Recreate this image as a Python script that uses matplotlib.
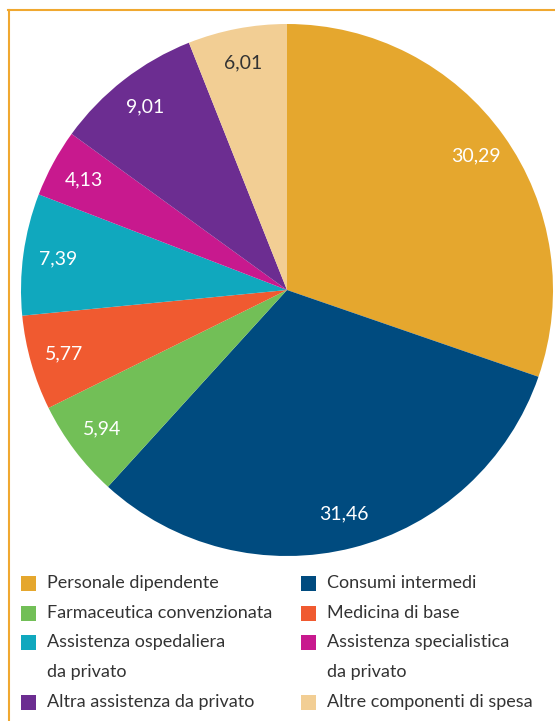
import matplotlib
matplotlib.use("Agg")
import matplotlib.pyplot as plt
from matplotlib.patches import Rectangle
from matplotlib.lines import Line2D
import numpy as np

categories = ["Personale dipendente", "Consumi intermedi", "Farmaceutica convenzionata",
              "Medicina di base", "Assistenza ospedaliera\nda privato",
              "Assistenza specialistica\nda privato", "Altra assistenza da privato",
              "Altre componenti di spesa"]
values = [30.29, 31.46, 5.94, 5.77, 7.39, 4.13, 9.01, 6.01]
colors = ["#E5A72E", "#004B7F", "#72BF57", "#F05A30", "#10A8BE", "#C8198E", "#6C2D91", "#F2CE94"]
label_colors = ["white"] * 7 + ["#333333"]

plt.rcParams['font.family'] = ['Lato', 'DejaVu Sans']

W, H = 555, 721
fig = plt.figure(figsize=(W / 100, H / 100), dpi=100)

cx, cy, r = 287, 290, 266
ax = fig.add_axes([(cx - r) / W, (H - cy - r) / H, 2 * r / W, 2 * r / H])
wedges, _ = ax.pie(values, colors=colors, startangle=90, counterclock=False, radius=1,
                   wedgeprops=dict(linewidth=0))
ax.set_xlim(-1, 1)
ax.set_ylim(-1, 1)
ax.set_aspect('equal')
ax.axis('off')

cum = 0
total = sum(values)
for v, c in zip(values, label_colors):
    mid = 90 - (cum + v / 2) / total * 360
    cum += v
    d = 0.87
    ax.text(d * np.cos(np.radians(mid)), d * np.sin(np.radians(mid)),
            f"{v:.2f}".replace(".", ","), ha='center', va='center',
            color=c, fontsize=14)

border_col = "#F0A830"
fig.add_artist(Line2D([8 / W, 1], [1 - 10 / H, 1 - 10 / H], transform=fig.transFigure,
                      color=border_col, lw=1.5))
fig.add_artist(Line2D([9 / W, 9 / W], [1 - 10 / H, 0], transform=fig.transFigure,
                      color=border_col, lw=1.5))

col_x = [21, 301]
row_y = [583, 613, 642, 702]
line_step = 30
sq = 15
for i, (lab, col) in enumerate(zip(categories, colors)):
    c = i % 2
    rrow = i // 2
    x0 = col_x[c]
    y0 = row_y[rrow]
    fig.add_artist(Rectangle((x0 / W, 1 - (y0 + sq / 2) / H), sq / W, sq / H,
                             transform=fig.transFigure, facecolor=col, edgecolor='none'))
    for k, line in enumerate(lab.split("\n")):
        fig.text((x0 + 26) / W, 1 - (y0 + k * line_step) / H, line, ha='left', va='center',
                 fontsize=13, color="#333333")

fig.savefig("out.png", dpi=100)
